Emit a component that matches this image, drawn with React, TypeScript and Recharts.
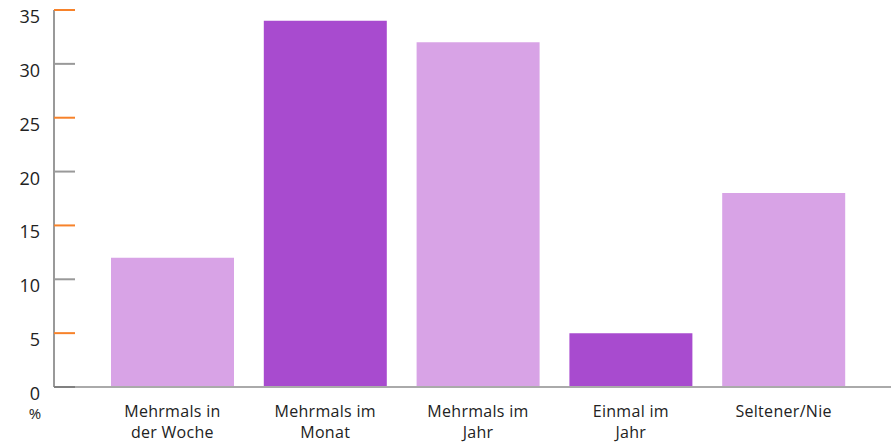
import React from "react";
import { BarChart, Bar, XAxis, YAxis, Cell } from "recharts";

const categories = [
  "Mehrmals in der Woche",
  "Mehrmals im Monat",
  "Mehrmals im Jahr",
  "Einmal im Jahr",
  "Seltener/Nie",
];
const categoryLines = [
  ["Mehrmals in", "der Woche"],
  ["Mehrmals im", "Monat"],
  ["Mehrmals im", "Jahr"],
  ["Einmal im", "Jahr"],
  ["Seltener/Nie"],
];
const values = [12, 34, 32, 5, 18];
const barColors = ["#d8a3e6", "#a84bcf", "#d8a3e6", "#a84bcf", "#d8a3e6"];
const yTicks = [0, 5, 10, 15, 20, 25, 30, 35];
const unitLabel = "%";

const data = categories.map((name, i) => ({ name, value: values[i] }));

const FONT = "'Open Sans', sans-serif";
const TEXT = "#222222";

// Y tick: label sits slightly below its gridline; odd ticks get an orange marker
const YTick = (props: any) => {
  const { x, y, payload } = props;
  const v = payload.value;
  const lineColor = v === 0 ? "#808080" : v % 10 === 5 ? "#f7822a" : "#999999";
  return (
    <g>
      <line x1={x + 14} x2={x + 35} y1={y} y2={y} stroke={lineColor} strokeWidth={2} />
      <text x={x} y={y} dy={13} textAnchor="end" fontSize={18} fontFamily={FONT} fill={TEXT}>
        {v}
      </text>
      {v === 0 && (
        <text x={x - 5} y={y} dy={32} textAnchor="middle" fontSize={15} fontFamily={FONT} fill={TEXT}>
          {unitLabel}
        </text>
      )}
    </g>
  );
};

const XTick = (props: any) => {
  const { x, y, index } = props;
  const lines = categoryLines[index] || [];
  return (
    <text x={x} y={y} textAnchor="middle" fontSize={16} letterSpacing={0.3} fontFamily={FONT} fill={TEXT}>
      {lines.map((l: string, i: number) => (
        <tspan key={i} x={x} dy={i === 0 ? 22 : 21}>
          {l}
        </tspan>
      ))}
    </text>
  );
};

export default function App() {
  return (
    <div style={{ position: "absolute", left: 0, top: 0, background: "#ffffff" }}>
      <BarChart
        width={891}
        height={442}
        data={data}
        margin={{ top: 10, right: 0, bottom: 0, left: 0 }}
        barSize={123}
      >
        <XAxis
          dataKey="name"
          axisLine={{ stroke: "#aaaaaa", strokeWidth: 2 }}
          tickLine={false}
          tick={<XTick />}
          padding={{ left: 42, right: 31 }}
          interval={0}
          height={55}
        />
        <YAxis
          domain={[0, 35]}
          ticks={yTicks}
          width={54}
          tickSize={0}
          tickMargin={14}
          axisLine={{ stroke: "#999999", strokeWidth: 2 }}
          tickLine={false}
          tick={<YTick />}
          interval={0}
        />
        <Bar dataKey="value" isAnimationActive={false}>
          {data.map((d, i) => (
            <Cell key={d.name} fill={barColors[i]} />
          ))}
        </Bar>
      </BarChart>
    </div>
  );
}
